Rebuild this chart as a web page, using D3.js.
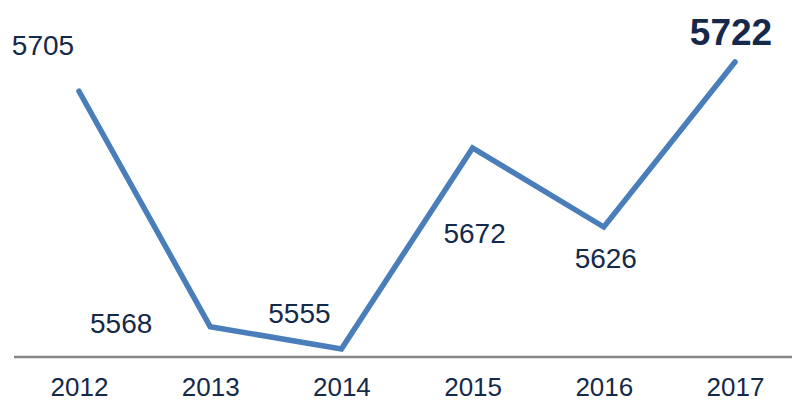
<!DOCTYPE html>
<html>
<head>
<meta charset="utf-8">
<script src="https://cdn.jsdelivr.net/npm/d3@7"></script>
<style>
    body { margin: 0; background: #fff; }
    svg { display: block; font-family: "Liberation Sans", Arial, sans-serif; }
</style>
</head>
<body>
<div id="chart"></div>
<script>
const years = ["2012", "2013", "2014", "2015", "2016", "2017"];
const values = [5705, 5568, 5555, 5672, 5626, 5722];

// label offsets from each point (dx, dy to text baseline)
const labelOffsets = [[-36, -36], [-89, 6], [-42, -26], [2, 95], [2, 41], [-4, -17]];

const width = 796, height = 403;

const svg = d3.select("#chart")
    .append("svg")
    .attr("width", width)
    .attr("height", height);

// Scales
const x = d3.scalePoint()
    .domain(years)
    .range([79, 735]);

const y = d3.scaleLinear()
    .domain([5555, 5722])
    .range([349, 62]);

// Baseline axis
const axisY = 357;
const xAxis = d3.axisBottom(x).tickSize(0).tickPadding(21);

const axisGroup = svg.append("g")
    .attr("transform", `translate(0, ${axisY})`)
    .call(xAxis);

axisGroup.select(".domain").remove();
axisGroup.append("line")
    .attr("x1", 14)
    .attr("x2", 792)
    .attr("stroke", "#878787")
    .attr("stroke-width", 2.5);

axisGroup.selectAll(".tick text")
    .attr("font-size", 26)
    .attr("font-family", "Liberation Sans, Arial, sans-serif")
    .attr("fill", "#15294a");

// Line
const line = d3.line()
    .x((d, i) => x(years[i]))
    .y(d => y(d));

svg.append("path")
    .datum(values)
    .attr("d", line)
    .attr("fill", "none")
    .attr("stroke", "#4a7ebb")
    .attr("stroke-width", 5.5)
    .attr("stroke-linejoin", "miter")
    .attr("stroke-linecap", "round");

// Data labels
svg.selectAll(".label")
    .data(values)
    .enter()
    .append("text")
    .attr("class", "label")
    .attr("x", (d, i) => x(years[i]) + labelOffsets[i][0])
    .attr("y", (d, i) => y(d) + labelOffsets[i][1])
    .attr("text-anchor", "middle")
    .attr("fill", "#15294a")
    .attr("font-size", (d, i) => i === values.length - 1 ? 37 : 28)
    .attr("font-weight", (d, i) => i === values.length - 1 ? "bold" : "normal")
    .text(d => d);
</script>
</body>
</html>
